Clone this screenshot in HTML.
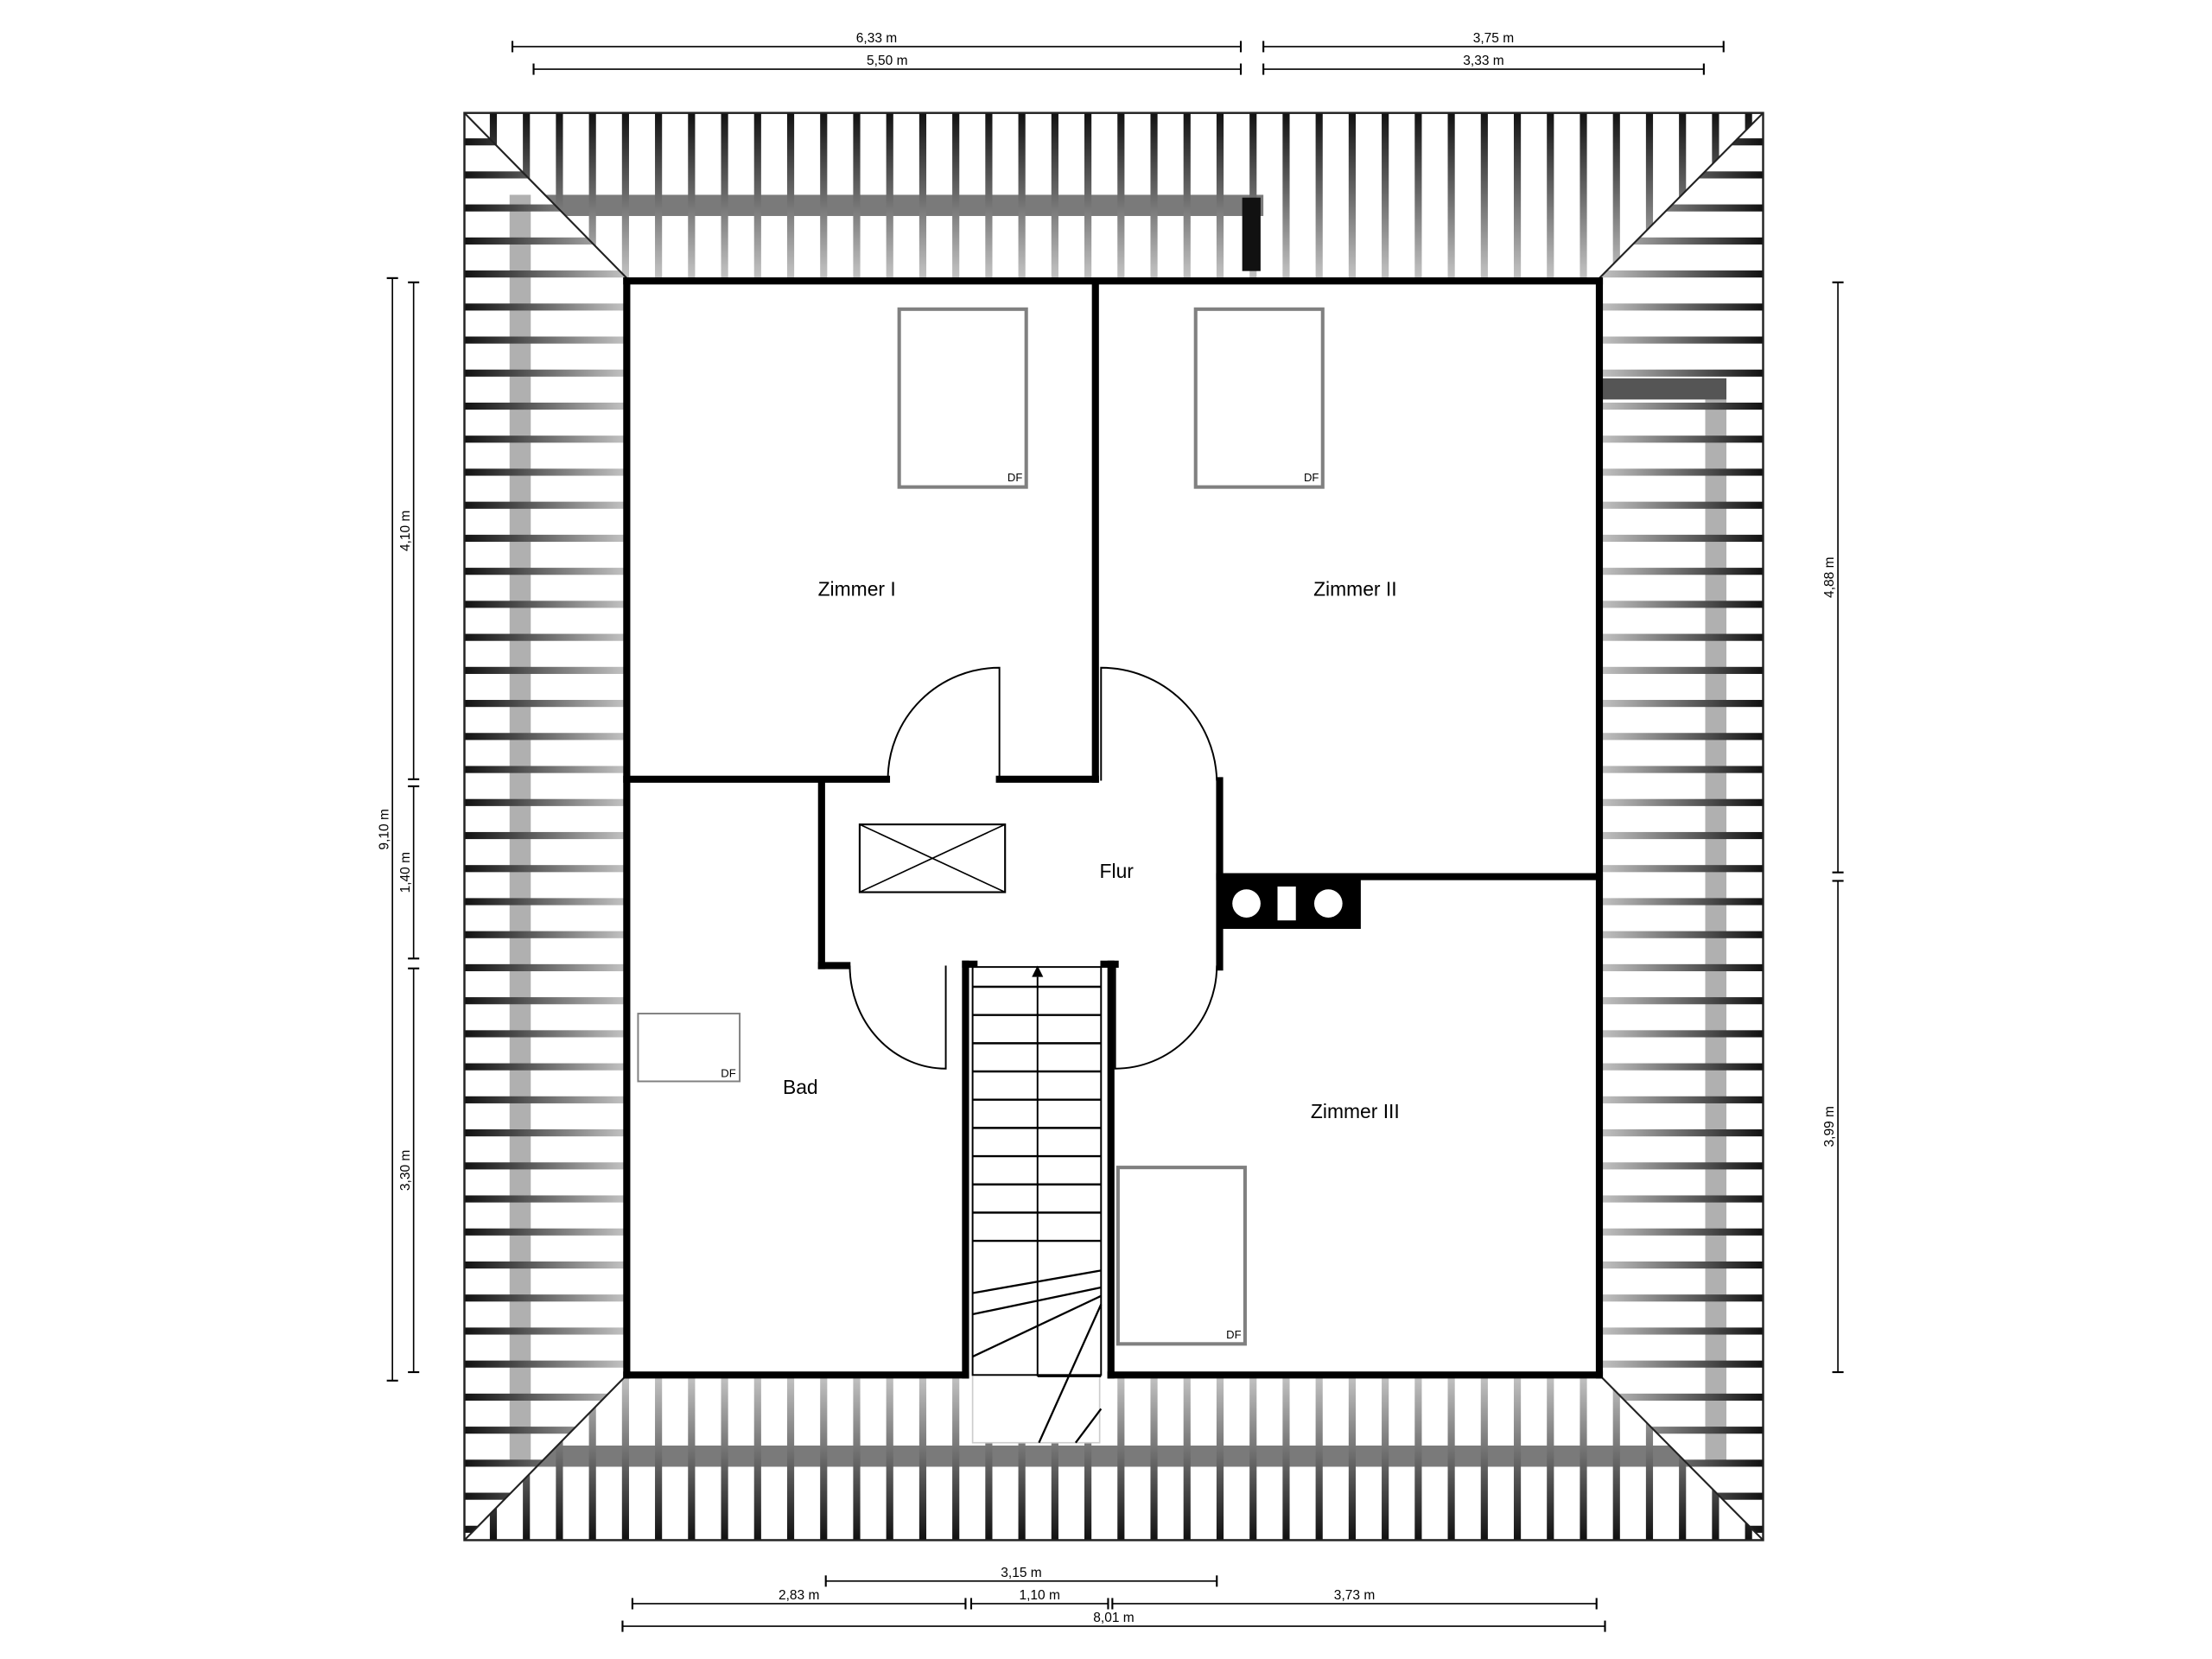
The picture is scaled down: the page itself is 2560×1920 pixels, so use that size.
<!DOCTYPE html>
<html><head><meta charset="utf-8"><style>
html,body{margin:0;padding:0;background:#fff;}
svg{display:block;}
text{font-family:"Liberation Sans",sans-serif;}
</style></head><body>
<svg id="s" width="2560" height="1920" viewBox="0 0 1567 1175.2" preserveAspectRatio="none" xmlns="http://www.w3.org/2000/svg">
<defs>
<linearGradient id="gT" x1="0" y1="0" x2="0" y2="1"><stop offset="0" stop-color="#111"/><stop offset="1" stop-color="#c4c4c4"/></linearGradient>
<linearGradient id="gB" x1="0" y1="1" x2="0" y2="0"><stop offset="0" stop-color="#111"/><stop offset="1" stop-color="#c4c4c4"/></linearGradient>
<linearGradient id="gL" x1="0" y1="0" x2="1" y2="0"><stop offset="0" stop-color="#111"/><stop offset="1" stop-color="#c4c4c4"/></linearGradient>
<linearGradient id="gR" x1="1" y1="0" x2="0" y2="0"><stop offset="0" stop-color="#111"/><stop offset="1" stop-color="#c4c4c4"/></linearGradient>
<clipPath id="cT"><polygon points="329,80 1249,80 1133,197 444,197"/></clipPath>
<clipPath id="cB"><polygon points="329,1091 1249,1091 1133,974 444,974"/></clipPath>
<clipPath id="cL"><polygon points="329,80 444,197 444,974 329,1091"/></clipPath>
<clipPath id="cR"><polygon points="1249,80 1133,197 1133,974 1249,1091"/></clipPath>
</defs>
<g id="roof"></g>
<g id="plan"></g>
</svg>
<script>
var NS="http://www.w3.org/2000/svg";
function el(p,t,a){var e=document.createElementNS(NS,t);for(var k in a)e.setAttribute(k,a[k]);p.appendChild(e);return e;}
var roof=document.getElementById('roof');
var gT=el(roof,'g',{'clip-path':'url(#cT)'}),gB=el(roof,'g',{'clip-path':'url(#cB)'}),gL=el(roof,'g',{'clip-path':'url(#cL)'}),gR=el(roof,'g',{'clip-path':'url(#cR)'});
el(gT,'rect',{x:360,y:138,width:535,height:15,fill:'#7a7a7a'});
el(gB,'rect',{x:360,y:1024,width:865,height:15,fill:'#7a7a7a'});
el(gL,'rect',{x:361,y:138,width:15,height:900,fill:'#b0b0b0'});
el(gR,'rect',{x:1208,y:268,width:15,height:770,fill:'#b0b0b0'});
for(var x=347;x<1249;x+=23.4){el(gT,'rect',{x:x,y:80,width:5,height:117,fill:'url(#gT)'});el(gB,'rect',{x:x,y:974,width:5,height:117,fill:'url(#gB)'});}
for(var y=98;y<1091;y+=23.4){el(gL,'rect',{x:329,y:y,width:115,height:5,fill:'url(#gL)'});el(gR,'rect',{x:1133,y:y,width:116,height:5,fill:'url(#gR)'});}
el(roof,'rect',{x:880,y:140,width:13,height:52,fill:'#111'});
el(roof,'rect',{x:1135,y:268,width:88,height:15,fill:'#555'});
el(roof,'rect',{x:329,y:80,width:920,height:1011,fill:'none',stroke:'#222','stroke-width':1.5});
[[329,80,444,197],[1249,80,1133,197],[329,1091,444,974],[1249,1091,1133,974]].forEach(function(l){el(roof,'line',{x1:l[0],y1:l[1],x2:l[2],y2:l[3],stroke:'#222','stroke-width':1.3});});
var p=document.getElementById('plan');
el(p,'rect',{x:444,y:197,width:689,height:777,fill:'#fff'});
el(p,'rect',{x:689,y:974,width:90,height:48,fill:'#fff',stroke:'#ccc','stroke-width':1});
function W(x1,y1,x2,y2){el(p,'line',{x1:x1,y1:y1,x2:x2,y2:y2,stroke:'#000','stroke-width':5,'stroke-linecap':'square'});}
W(444,199,1133,199);W(444,199,444,974);W(1133,199,1133,974);W(444,974,684,974);W(787,974,1133,974);
W(776,199,776,552);W(444,552,628,552);W(708,552,776,552);
W(864,553,864,685);W(864,621,1133,621);
W(582,556,582,684);W(582,684,600,684);
W(684,683,684,974);W(787,683,787,974);W(684,683,690,683);W(782,683,790,683);
el(p,'rect',{x:866,y:622,width:98,height:36,fill:'#000'});
el(p,'circle',{cx:883,cy:640,r:10,fill:'#fff'});el(p,'circle',{cx:941,cy:640,r:10,fill:'#fff'});
el(p,'rect',{x:905,y:628,width:13,height:24,fill:'#fff'});
var ds={stroke:'#000','stroke-width':1.2,fill:'none'};
function P(d){var a={d:d};for(var k in ds)a[k]=ds[k];el(p,'path',a);}
P('M708,552 L708,473 A79,79 0 0 0 629,552');
P('M780,553 L780,473 A82,82 0 0 1 862,553');
P('M670,684 L670,757 A68,73 0 0 1 602,684');
P('M790,684 L790,757 A72,73 0 0 0 862,684');
el(p,'rect',{x:689,y:685,width:91,height:289,fill:'none',stroke:'#000','stroke-width':1.2});
for(var i=0;i<10;i++){var yy=699+i*20;el(p,'line',{x1:689,y1:yy,x2:780,y2:yy,stroke:'#000','stroke-width':1.5});}
el(p,'line',{x1:735,y1:692,x2:735,y2:975,stroke:'#000','stroke-width':1.2});
el(p,'path',{d:'M735,684 L731,692 L739,692 Z',fill:'#000'});
el(p,'line',{x1:735,y1:975,x2:780,y2:975,stroke:'#000','stroke-width':1.2});
[[689,916,780,900],[689,931,780,912],[689,961,780,918],[736,1022,780,924],[762,1022,780,998]].forEach(function(l){el(p,'line',{x1:l[0],y1:l[1],x2:l[2],y2:l[3],stroke:'#000','stroke-width':1.4});});
function R(x,y,w,h,sw){el(p,'rect',{x:x,y:y,width:w,height:h,fill:'none',stroke:'#808080','stroke-width':sw});}
R(637,219,90,126,2.5);R(847,219,90,126,2.5);R(452,718,72,48,1.2);R(792,827,90,125,2.5);
function T(x,y,s,sz,anc,rot){var a={x:x,y:y,'font-size':sz,'text-anchor':anc||'middle',fill:'#000'};if(rot)a.transform='rotate(-90 '+x+' '+y+')';var t=el(p,'text',a);t.textContent=s;}
T(719,341,'DF',8);T(929,341,'DF',8);T(516,763,'DF',8);T(874,948,'DF',8);
el(p,'rect',{x:609,y:584,width:103,height:48,fill:'none',stroke:'#000','stroke-width':1.3});
el(p,'line',{x1:609,y1:584,x2:712,y2:632,stroke:'#000','stroke-width':1});el(p,'line',{x1:609,y1:632,x2:712,y2:584,stroke:'#000','stroke-width':1});
T(607,422,'Zimmer I',14);T(960,422,'Zimmer II',14);T(791,622,'Flur',14);T(567,775,'Bad',14);T(960,792,'Zimmer III',14);
function H(x1,x2,y,s){el(p,'line',{x1:x1,y1:y,x2:x2,y2:y,stroke:'#000','stroke-width':1});el(p,'line',{x1:x1,y1:y-4,x2:x1,y2:y+4,stroke:'#000','stroke-width':1.3});el(p,'line',{x1:x2,y1:y-4,x2:x2,y2:y+4,stroke:'#000','stroke-width':1.3});T((x1+x2)/2,y-3,s,9.5);}
function V(x,y1,y2,s){el(p,'line',{x1:x,y1:y1,x2:x,y2:y2,stroke:'#000','stroke-width':1});el(p,'line',{x1:x-4,y1:y1,x2:x+4,y2:y1,stroke:'#000','stroke-width':1.3});el(p,'line',{x1:x-4,y1:y2,x2:x+4,y2:y2,stroke:'#000','stroke-width':1.3});T(x-3,(y1+y2)/2,s,9.5,'middle',true);}
H(363,879,33,'6,33 m');H(895,1221,33,'3,75 m');H(378,879,49,'5,50 m');H(895,1207,49,'3,33 m');
H(585,862,1120,'3,15 m');H(448,684,1136,'2,83 m');H(688,785,1136,'1,10 m');H(788,1131,1136,'3,73 m');H(441,1137,1152,'8,01 m');
V(278,197,978,'9,10 m');V(293,200,552,'4,10 m');V(293,557,679,'1,40 m');V(293,686,972,'3,30 m');
V(1302,200,618,'4,88 m');V(1302,624,972,'3,99 m');
</script>
</body></html>
